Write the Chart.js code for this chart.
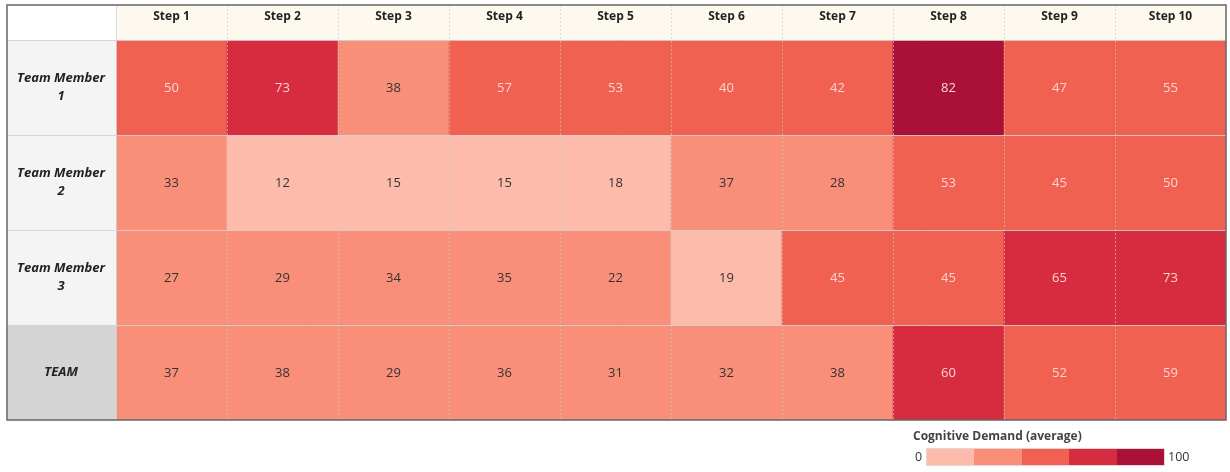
<!DOCTYPE html>
<html><head><meta charset="utf-8">
<script src="https://cdn.jsdelivr.net/npm/chart.js@4.4.1/dist/chart.umd.min.js"></script>
<style>
html,body{margin:0;padding:0;background:#fff;}
#wrap{position:relative;width:1230px;height:472px;overflow:hidden;}
canvas{display:block;}
.lg{position:absolute;font-family:"Open Sans",sans-serif;color:#333;white-space:nowrap;}
#lgTitle{left:913px;top:427px;font-size:12px;font-weight:bold;color:#444;}
#lgBar{left:927px;top:449px;width:237px;height:16px;display:flex;box-shadow:0 0 0 1px #e6d6d2;}
#lgBar div{flex:1;}
#lg0{left:915px;top:449px;font-size:12.5px;line-height:16px;}
#lg100{left:1168px;top:449px;font-size:12.5px;line-height:16px;}
</style></head><body>
<div id="wrap">
<canvas id="c" width="1230" height="472"></canvas>
<div class="lg" id="lgTitle"></div>
<div class="lg" id="lgBar"></div>
<div class="lg" id="lg0"></div>
<div class="lg" id="lg100"></div>
</div>
<script>
const steps = ['Step 1','Step 2','Step 3','Step 4','Step 5','Step 6','Step 7','Step 8','Step 9','Step 10'];
const rowLabels = [['Team Member','1'],['Team Member','2'],['Team Member','3'],['TEAM']];
const member1 = [50,73,38,57,53,40,42,82,47,55];
const member2 = [33,12,15,15,18,37,28,53,45,50];
const member3 = [27,29,34,35,22,19,45,45,65,73];
const team    = [37,38,29,36,31,32,38,60,52,59];
const binEdges = [0,20,40,60,80,100];
const binColors = ['#fdbbac','#fa8f79','#f06151','#d72b3f','#ab1038'];
const legendTitle = 'Cognitive Demand (average)';

const rowsValues = [member1, member2, member3, team];
const FONT = '"Open Sans", sans-serif';

function colorFor(v){
  for (let i = binEdges.length - 2; i >= 0; i--) if (v >= binEdges[i]) return binColors[i];
  return binColors[0];
}

// legend (HTML)
document.getElementById('lgTitle').textContent = legendTitle;
document.getElementById('lg0').textContent = String(binEdges[0]);
document.getElementById('lg100').textContent = String(binEdges[binEdges.length-1]);
const bar = document.getElementById('lgBar');
binColors.forEach(c => { const d = document.createElement('div'); d.style.background = c; bar.appendChild(d); });

const tablePlugin = {
  id: 'table',
  beforeDraw(chart){
    const {ctx, chartArea:a, scales:{x, y}} = chart;
    ctx.save();
    ctx.fillStyle = '#fdf9ef';
    ctx.fillRect(a.left, x.top, a.right - a.left, a.top - x.top);
    rowLabels.forEach((_, r) => {
      const t = y.getPixelForValue(r), b = y.getPixelForValue(r + 1);
      ctx.fillStyle = r === rowLabels.length - 1 ? '#d4d4d4' : '#f4f4f4';
      ctx.fillRect(y.left, t, y.right - y.left, b - t);
    });
    ctx.restore();
  },
  afterDatasetsDraw(chart){
    const {ctx, chartArea:a, scales:{x, y}} = chart;
    ctx.save();
    // column separators
    ctx.lineWidth = 1;
    ctx.strokeStyle = 'rgba(200,200,200,0.65)';
    ctx.setLineDash([2,2]);
    for (let i = 1; i < steps.length; i++) {
      const px = Math.round(x.getPixelForValue(i - 0.5)) + 0.5;
      ctx.beginPath(); ctx.moveTo(px, x.top); ctx.lineTo(px, a.bottom); ctx.stroke();
    }
    ctx.setLineDash([]);
    // row separators
    ctx.strokeStyle = 'rgba(210,210,210,0.85)';
    for (let r = 0; r < rowLabels.length; r++) {
      const py = Math.round(y.getPixelForValue(r)) + 0.5;
      ctx.beginPath(); ctx.moveTo(y.left, py); ctx.lineTo(a.right, py); ctx.stroke();
    }
    const lx = Math.round(a.left) + 0.5;
    ctx.beginPath(); ctx.moveTo(lx, x.top); ctx.lineTo(lx, a.bottom); ctx.stroke();
    // value labels
    ctx.font = '13px ' + FONT;
    ctx.textAlign = 'center';
    ctx.textBaseline = 'middle';
    chart.data.datasets.forEach((ds, di) => {
      const meta = chart.getDatasetMeta(di);
      meta.data.forEach((el, i) => {
        const v = ds.values[i];
        ctx.fillStyle = v >= binEdges[2] ? '#fbd6d1' : '#333333';
        ctx.fillText(String(v), el.x, (el.y + el.base) / 2 + 1);
      });
    });
    // outer border
    ctx.strokeStyle = '#666';
    ctx.lineWidth = 1.5;
    ctx.strokeRect(y.left, x.top, a.right - y.left, a.bottom - x.top);
    ctx.restore();
  }
};

new Chart(document.getElementById('c'), {
  type: 'bar',
  data: {
    labels: steps,
    datasets: rowsValues.map((vals, r) => ({
      label: rowLabels[r].join(' '),
      values: vals,
      data: vals.map(() => [r, r + 1]),
      backgroundColor: vals.map(colorFor),
      borderWidth: 0,
      barPercentage: 1,
      categoryPercentage: 1
    }))
  },
  options: {
    responsive: false,
    animation: false,
    devicePixelRatio: 1,
    layout: { padding: { left: 7, top: 5, right: 4, bottom: 52 } },
    plugins: { legend: { display: false }, tooltip: { enabled: false } },
    scales: {
      x: {
        type: 'category', position: 'top', stacked: true, offset: true,
        grid: { display: false, drawTicks: false }, border: { display: false },
        ticks: { font: { family: FONT, size: 12, weight: 'bold' }, color: '#222', padding: 16, maxRotation: 0, autoSkip: false },
        afterFit(s){ s.height = 35; }
      },
      y: {
        type: 'linear', min: 0, max: rowLabels.length, reverse: true,
        grid: { display: false, drawTicks: false }, border: { display: false },
        afterBuildTicks(s){ s.ticks = rowLabels.map((_, i) => ({ value: i + 0.5 })); },
        ticks: {
          autoSkip: false,
          callback: (v, i) => rowLabels[i],
          font: { family: FONT, size: 13, weight: 'bold', style: 'italic', lineHeight: 1.35 },
          color: '#222', crossAlign: 'center', padding: 11
        },
        afterFit(s){ s.width = 109; }
      }
    }
  },
  plugins: [tablePlugin]
});
</script>
</body></html>
